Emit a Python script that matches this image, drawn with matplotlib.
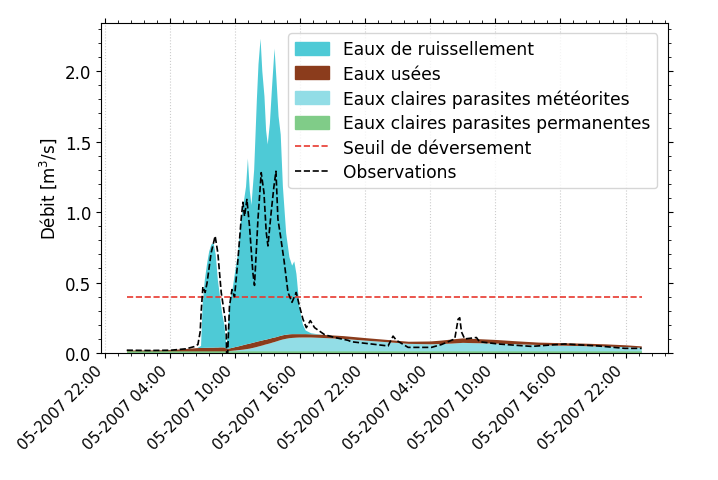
import matplotlib
matplotlib.use('Agg')
import matplotlib.pyplot as plt
import matplotlib.dates as mdates
from matplotlib.patches import Patch
from matplotlib.lines import Line2D
from matplotlib.ticker import AutoMinorLocator
import numpy as np
import pandas as pd

matplotlib.rcParams.update({'font.size': 12})

START = pd.Timestamp('2007-05-21 00:00')

# hours since start for the modelled components
hours = [0, 1, 2, 3, 4, 5, 6, 6.5, 6.85, 7.0, 7.2, 7.4, 7.6, 7.8, 8.0, 8.2, 8.4, 8.6,
         8.8, 9.0, 9.2, 9.3, 9.5, 9.75, 10.0, 10.25, 10.5, 10.75, 11.0, 11.17, 11.35,
         11.5, 11.75, 12.0, 12.15, 12.34, 12.5, 12.7, 12.85, 13.0, 13.2, 13.4, 13.63,
         13.8, 14.0, 14.2, 14.4, 14.7, 15.0, 15.25, 15.45, 15.65, 15.95, 16.25, 16.5,
         17, 18, 20, 22, 24, 26, 28, 29, 30, 31, 32, 34, 36, 38, 40, 42, 44, 46, 47.5]

ecp_permanentes = [0.012] * len(hours)

ecp_meteorites = [0, 0, 0, 0, 0, 0, 0, 0, 0, 0, 0, 0, 0, 0, 0, 0, 0, 0,
                  0, 0, 0, 0.001, 0.002, 0.004, 0.006, 0.008, 0.010, 0.012, 0.015, 0.017, 0.019,
                  0.022, 0.026, 0.031, 0.034, 0.038, 0.041, 0.046, 0.049, 0.052, 0.056, 0.061, 0.066,
                  0.070, 0.075, 0.080, 0.084, 0.089, 0.093, 0.095, 0.096, 0.097, 0.098, 0.098, 0.098,
                  0.098, 0.095, 0.088, 0.076, 0.065, 0.053, 0.050, 0.052, 0.055, 0.060, 0.058, 0.055,
                  0.050, 0.045, 0.040, 0.037, 0.034, 0.030, 0.025]

eaux_usees = [0.006, 0.006, 0.006, 0.007, 0.009, 0.014, 0.020, 0.023, 0.024, 0.024, 0.025, 0.025,
              0.026, 0.026, 0.026, 0.027, 0.027, 0.028, 0.028, 0.028, 0.018, 0.017, 0.019, 0.021,
              0.024, 0.026, 0.029, 0.032, 0.034, 0.035, 0.036, 0.036, 0.037, 0.037, 0.037, 0.036,
              0.036, 0.035, 0.034, 0.034, 0.034, 0.033, 0.032, 0.031, 0.031, 0.030, 0.030, 0.029,
              0.028, 0.027, 0.026, 0.025, 0.024, 0.024, 0.024, 0.023, 0.022, 0.020, 0.018, 0.016,
              0.015, 0.020, 0.024, 0.029, 0.032, 0.030, 0.026, 0.021, 0.017, 0.018, 0.018, 0.016,
              0.013, 0.010]

ruissellement = [0, 0, 0, 0, 0, 0, 0, 0, 0.014, 0.314, 0.483, 0.593, 0.682, 0.732, 0.742, 0.661,
                 0.481, 0.360, 0.240, 0.160, 0.010, 0.120, 0.327, 0.413, 0.538, 0.654, 0.869,
                 0.994, 1.119, 1.316, 1.083, 0.980, 1.225, 1.720, 1.967, 2.144, 1.911, 1.727,
                 1.485, 1.382, 1.528, 1.784, 2.050, 1.837, 1.562, 1.428, 1.054, 0.720, 0.547,
                 0.486, 0.516, 0.426, 0.176, 0.066, 0.026, 0.007, 0, 0, 0, 0, 0, 0, 0, 0, 0, 0,
                 0, 0, 0, 0, 0, 0, 0, 0]

# observed flow
obs_hours = [0.0, 2.06, 4.09, 5.48, 6.2, 6.56, 6.77, 6.86, 7.02, 7.23, 7.41, 7.78, 8.15, 8.40,
             8.71, 9.08, 9.17, 9.21, 9.31, 9.47, 9.70, 9.94, 10.25, 10.55, 10.71, 10.86, 11.08,
             11.32, 11.63, 11.78, 12.10, 12.40, 12.65, 12.86, 13.02, 13.32, 13.57, 13.76, 13.94,
             14.18, 14.50, 14.87, 15.24, 15.63, 15.94, 16.25, 16.56, 16.93, 17.32, 18.25, 19.17,
             20.41, 20.71, 22.56, 24.10, 24.56, 24.87, 25.95, 28.10, 29.02, 30.25, 30.56, 30.71,
             30.87, 31.17, 32.25, 32.53, 34.26, 37.33, 40.41, 43.49, 45.95, 47.49]
observations = [0.02, 0.018, 0.02, 0.03, 0.045, 0.06, 0.15, 0.29, 0.47, 0.43, 0.50, 0.71, 0.83,
                0.71, 0.43, 0.24, 0.15, 0.0, 0.0, 0.33, 0.45, 0.40, 0.66, 0.95, 1.07, 0.97, 1.09,
                0.90, 0.57, 0.48, 0.95, 1.28, 1.14, 0.86, 0.76, 1.00, 1.18, 1.29, 0.95, 0.83,
                0.66, 0.43, 0.36, 0.43, 0.33, 0.24, 0.18, 0.23, 0.18, 0.13, 0.11, 0.09, 0.08,
                0.064, 0.05, 0.12, 0.09, 0.04, 0.04, 0.06, 0.10, 0.24, 0.25, 0.15, 0.10, 0.11,
                0.08, 0.064, 0.047, 0.064, 0.05, 0.033, 0.033]

seuil = 0.4

colors = {'ruis': '#4ecad6', 'usees': '#8b3c1c', 'meteo': '#92dde6', 'perm': '#80cc88'}

t = START + pd.to_timedelta(np.array(hours), unit='h')
t_obs = START + pd.to_timedelta(np.array(obs_hours), unit='h')

fig = plt.figure(figsize=(7.18, 4.81), dpi=100)
ax = fig.add_axes([0.1407, 0.264, 0.789, 0.686])

ax.stackplot(t, ecp_permanentes, ecp_meteorites, eaux_usees, ruissellement,
             colors=[colors['perm'], colors['meteo'], colors['usees'], colors['ruis']],
             linewidth=0)
ax.plot([t[0], t[-1]], [seuil, seuil], color='#e8382f', linestyle='--', linewidth=1.2)
ax.plot(t_obs, observations, color='black', linestyle='--', linewidth=1.2)

ax.set_ylabel('Débit [m$^3$/s]')
ax.set_ylim(bottom=0)

ax.xaxis.set_major_locator(mdates.HourLocator(byhour=[4, 10, 16, 22]))
ax.xaxis.set_major_formatter(mdates.DateFormatter('%m-%Y %H:%M'))
ax.xaxis.set_minor_locator(AutoMinorLocator(5))
ax.yaxis.set_minor_locator(AutoMinorLocator(5))
ax.tick_params(which='both', direction='out', top=True, right=True)
ax.tick_params(axis='x', labelsize=11)
ax.tick_params(axis='y', labelsize=12)
plt.setp(ax.get_xticklabels(), rotation=45, ha='right')
ax.grid(axis='x', which='major', color='#cccccc', linestyle=':', linewidth=0.8)
ax.set_axisbelow(True)

handles = [Patch(color=colors['ruis'], label='Eaux de ruissellement'),
           Patch(color=colors['usees'], label='Eaux usées'),
           Patch(color=colors['meteo'], label='Eaux claires parasites météorites'),
           Patch(color=colors['perm'], label='Eaux claires parasites permanentes'),
           Line2D([], [], color='#e8382f', linestyle='--', linewidth=1.2, label='Seuil de déversement'),
           Line2D([], [], color='black', linestyle='--', linewidth=1.2, label='Observations')]
ax.legend(handles=handles, loc='upper right', fontsize=12.3, labelspacing=0.38,
          handleheight=0.8, borderaxespad=0.6)

fig.savefig('out.png', dpi=100)
